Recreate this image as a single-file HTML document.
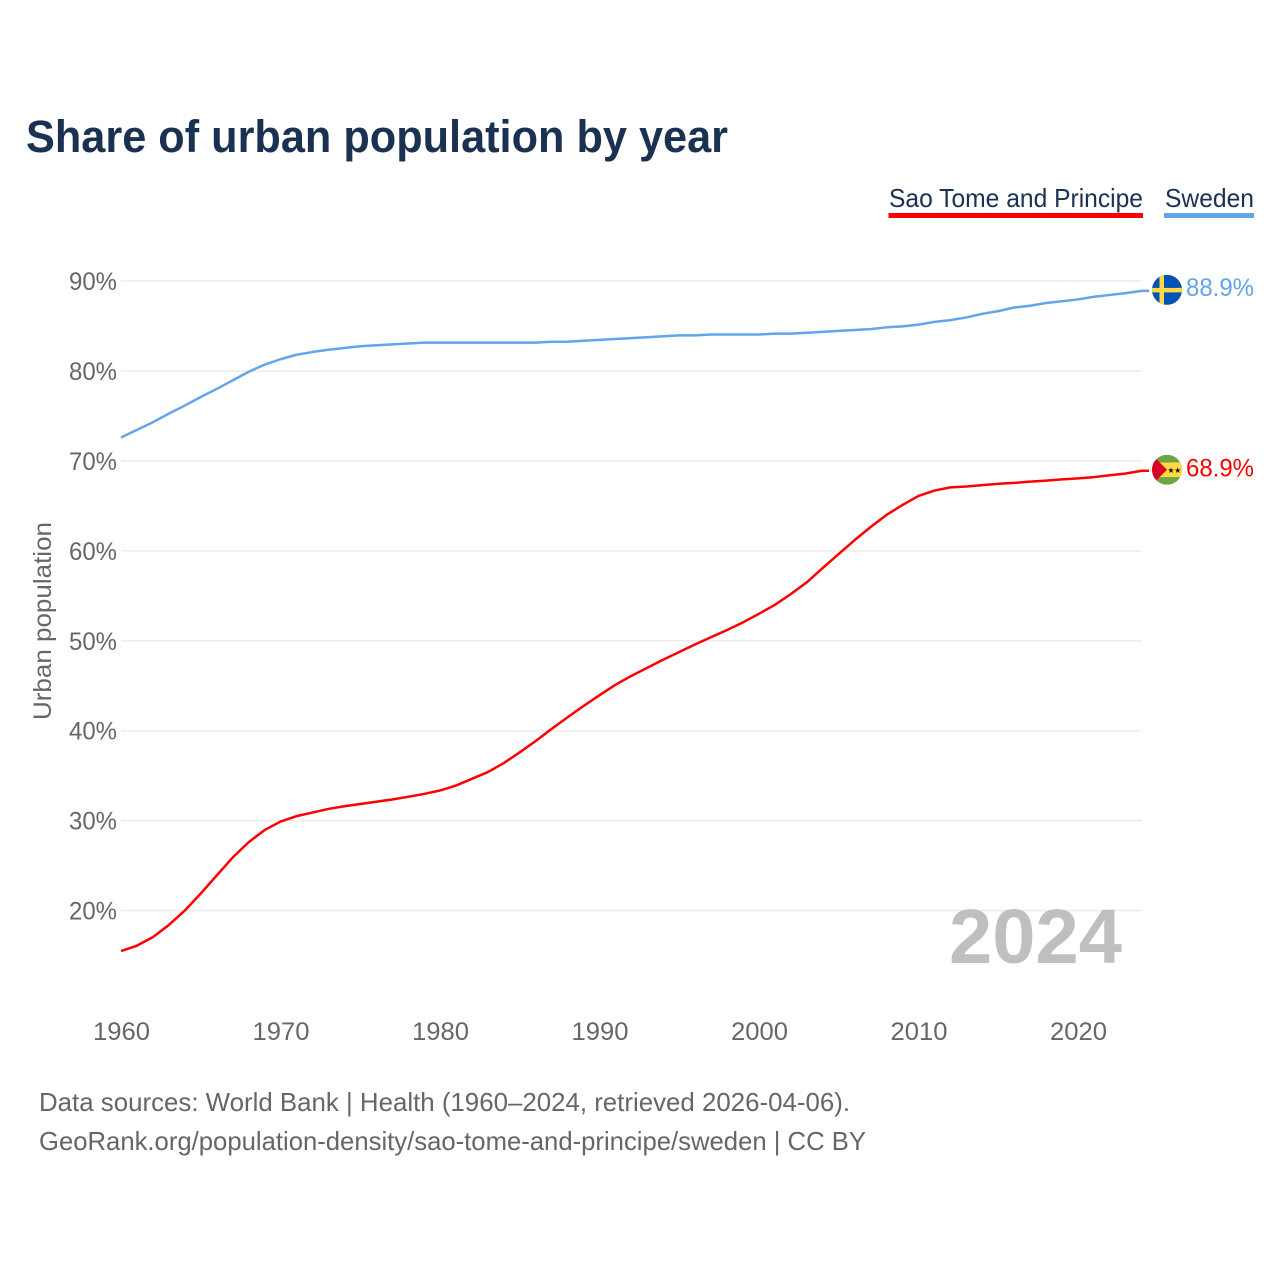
<!DOCTYPE html>
<html lang="en">
<head>
<meta charset="utf-8">
<title>Share of urban population by year</title>
<style>
html,body{margin:0;padding:0;background:#fff;width:1280px;height:1280px;overflow:hidden}
svg{display:block}
text{font-family:"Liberation Sans",sans-serif}
</style>
</head>
<body>
<svg id="chart" xmlns="http://www.w3.org/2000/svg" width="1280" height="1280" viewBox="0 0 1280 1280">
  <defs>
    <clipPath id="flag-clip-sweden"><circle id="clip-c-se" cx="1167" cy="290" r="15"/></clipPath>
    <clipPath id="flag-clip-stp"><circle id="clip-c-st" cx="1167" cy="470" r="15"/></clipPath>
  </defs>
  <rect width="1280" height="1280" fill="#ffffff"/>
  <text x="26" y="152" font-size="45" font-weight="700" fill="#1a3152" textLength="702" lengthAdjust="spacingAndGlyphs">Share of urban population by year</text>

  <g>
    <text x="889" y="207" font-size="26" fill="#1a3152" textLength="254" lengthAdjust="spacingAndGlyphs">Sao Tome and Principe</text>
    <rect x="888.5" y="213" width="254.5" height="5" fill="#ff0000"/>
    <text x="1165" y="207" font-size="26" fill="#1a3152" textLength="89" lengthAdjust="spacingAndGlyphs">Sweden</text>
    <rect x="1164" y="213" width="90" height="5" fill="#62a5ea"/>
  </g>

  <g id="grid"></g>
  <g id="yticks"></g>
  <g id="xticks"></g>
  <text transform="translate(51,720) rotate(-90)" font-size="25" fill="#666666" textLength="198" lengthAdjust="spacingAndGlyphs">Urban population</text>

  <text x="949" y="963" font-size="77" font-weight="700" fill="#bfbfbf" textLength="173" lengthAdjust="spacingAndGlyphs">2024</text>

  <g id="series"></g>

  <g id="flag-se" clip-path="url(#flag-clip-sweden)">
    <rect x="1152" y="275" width="30" height="30" fill="#0052b4"/>
    <rect x="1159.5" y="275" width="4.5" height="30" fill="#ffda44"/>
    <rect x="1152" y="288" width="30" height="4.5" fill="#ffda44"/>
  </g>
  <g id="flag-st" clip-path="url(#flag-clip-stp)">
    <rect x="1152" y="455" width="30" height="30" fill="#6da544"/>
    <rect x="1152" y="462.7" width="30" height="14.6" fill="#ffda44"/>
    <polygon points="1152,455 1167,470 1152,485" fill="#d80027"/>
    <text x="1171" y="473" font-size="8" text-anchor="middle" fill="#111" style="font-family:'DejaVu Sans',sans-serif">★</text>
    <text x="1177.7" y="473" font-size="8" text-anchor="middle" fill="#111" style="font-family:'DejaVu Sans',sans-serif">★</text>
  </g>

  <text id="value-se" x="1186" y="296" font-size="25" fill="#62a5ea" textLength="68" lengthAdjust="spacingAndGlyphs"></text>
  <text id="value-st" x="1186" y="476" font-size="25" fill="#ff0000" textLength="68" lengthAdjust="spacingAndGlyphs"></text>

  <text x="39" y="1111" font-size="26" fill="#666666" textLength="811" lengthAdjust="spacingAndGlyphs">Data sources: World Bank | Health (1960–2024, retrieved 2026-04-06).</text>
  <text x="39" y="1150" font-size="26" fill="#666666" textLength="827" lengthAdjust="spacingAndGlyphs">GeoRank.org/population-density/sao-tome-and-principe/sweden | CC BY</text>
</svg>
<script>
const years = [1960,1961,1962,1963,1964,1965,1966,1967,1968,1969,
  1970,1971,1972,1973,1974,1975,1976,1977,1978,1979,
  1980,1981,1982,1983,1984,1985,1986,1987,1988,1989,
  1990,1991,1992,1993,1994,1995,1996,1997,1998,1999,
  2000,2001,2002,2003,2004,2005,2006,2007,2008,2009,
  2010,2011,2012,2013,2014,2015,2016,2017,2018,2019,
  2020,2021,2022,2023,2024];
const swedenValues = [72.6,73.45,74.3,75.25,76.15,77.1,78.0,78.95,79.9,80.7,
  81.3,81.8,82.1,82.35,82.55,82.75,82.85,82.95,83.05,83.15,
  83.15,83.15,83.15,83.15,83.15,83.15,83.15,83.25,83.25,83.35,
  83.45,83.55,83.65,83.75,83.85,83.95,83.95,84.05,84.05,84.05,
  84.05,84.15,84.15,84.25,84.35,84.45,84.55,84.65,84.85,84.95,
  85.15,85.45,85.65,85.95,86.35,86.65,87.05,87.25,87.55,87.75,
  87.95,88.25,88.45,88.65,88.9];
const saoTomeValues = [15.5,16.1,17.05,18.4,20.0,21.9,23.9,25.9,27.6,28.95,
  29.9,30.5,30.9,31.3,31.6,31.85,32.1,32.35,32.65,32.97,
  33.35,33.9,34.65,35.4,36.4,37.6,38.85,40.2,41.5,42.75,
  43.95,45.1,46.1,47.0,47.9,48.75,49.6,50.4,51.2,52.05,
  53.0,54.0,55.2,56.5,58.1,59.65,61.2,62.65,64.0,65.1,
  66.1,66.7,67.05,67.15,67.3,67.45,67.55,67.7,67.8,67.95,
  68.05,68.2,68.4,68.6,68.9];
const yTickValues = [20,30,40,50,60,70,80,90];
const xTickValues = [1960,1970,1980,1990,2000,2010,2020];

const SVGNS = 'http://www.w3.org/2000/svg';
function xScale(year){ return 121 + (year - 1960) * 15.95; }
function yScale(v){ return 281 + (90 - v) * 8.994; }
function make(tag, attrs){
  const el = document.createElementNS(SVGNS, tag);
  for (const k in attrs) el.setAttribute(k, attrs[k]);
  return el;
}

const gridG = document.getElementById('grid');
const yG = document.getElementById('yticks');
yTickValues.forEach(function(v){
  const line = make('line', {x1:121, x2:1142, y1:yScale(v), y2:yScale(v), stroke:'#ececec', 'stroke-width':1.5});
  
  
  gridG.appendChild(line);
  const t = make('text', {x:117, y:yScale(v) + 9, 'text-anchor':'end', 'font-size':25, fill:'#666666', textLength:48, lengthAdjust:'spacingAndGlyphs'});
  t.textContent = v + '%';
  
  
  yG.appendChild(t);
});

const xG = document.getElementById('xticks');
xTickValues.forEach(function(yr){
  const t = make('text', {x:xScale(yr) + 0.5, y:1040, 'text-anchor':'middle', 'font-size':25, fill:'#666666', textLength:57, lengthAdjust:'spacingAndGlyphs'});
  t.textContent = String(yr);
  
  
  xG.appendChild(t);
});

function linePath(values){
  let d = values.map(function(v, i){
    return (i ? 'L' : 'M') + xScale(years[i]).toFixed(2) + ' ' + yScale(v).toFixed(2);
  }).join(' ');
  d += ' L1149 ' + yScale(values[values.length - 1]).toFixed(2);
  return d;
}

const seriesG = document.getElementById('series');
const swedenLine = make('path', {d:linePath(swedenValues), fill:'none', stroke:'#62a5ea', 'stroke-width':2.5, 'stroke-linejoin':'round'});


seriesG.appendChild(swedenLine);
const saoTomeLine = make('path', {d:linePath(saoTomeValues), fill:'none', stroke:'#ff0000', 'stroke-width':2.5, 'stroke-linejoin':'round'});


seriesG.appendChild(saoTomeLine);

const lastSe = swedenValues[swedenValues.length - 1];
const lastSt = saoTomeValues[saoTomeValues.length - 1];
const valueSe = document.getElementById('value-se');
valueSe.textContent = lastSe.toFixed(1) + '%';
valueSe.setAttribute('y', (yScale(lastSe) + 5).toFixed(2));
const valueSt = document.getElementById('value-st');
valueSt.textContent = lastSt.toFixed(1) + '%';
valueSt.setAttribute('y', (yScale(lastSt) + 5.5).toFixed(2));

const dySe = yScale(lastSe) - 1 - 290;
const dySt = yScale(lastSt) - 1 - 470;
document.getElementById('clip-c-se').setAttribute('cy', 290 + dySe);
document.getElementById('clip-c-st').setAttribute('cy', 470 + dySt);
Array.from(document.getElementById('flag-se').children).forEach(function(c){
  c.setAttribute('transform', 'translate(0,' + dySe + ')');
});
Array.from(document.getElementById('flag-st').children).forEach(function(c){
  c.setAttribute('transform', 'translate(0,' + dySt + ')');
});
</script>
</body>
</html>
